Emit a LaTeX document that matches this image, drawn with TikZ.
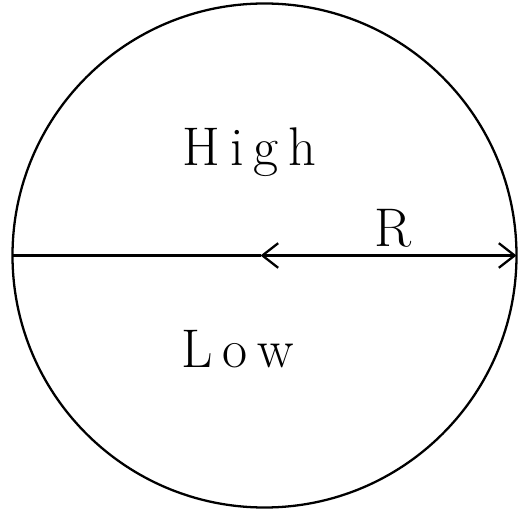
\documentclass[tikz,border=0pt]{standalone}
\usepackage{fontspec}
\usepackage{tikz}
\usetikzlibrary{arrows.meta}
\newcommand{\lsp}{\kern5.5pt}
\newcommand{\lbl}{\fontsize{31}{36}\selectfont\addfontfeatures{FakeBold=1.5}}

\begin{document}
\begin{tikzpicture}[x=0.02cm,y=0.02cm]
    \useasboundingbox (-264.5,-254.5) rectangle (262.5,255.5);
    \coordinate (0) at (-4,0);
    \coordinate (1) at (-252,0);
    \coordinate (2) at (252,0);
    \draw[black,line width=1.3pt] (0,0) circle (252);

    \node (3) [anchor=base] at (-15,90) {\lbl H\lsp i\lsp g\lsp h};
    \node (4) [anchor=base] at (-26.5,-111.5) {\lbl L\lsp o\lsp w};
    \node (5) [anchor=base] at (129,8.5) {\lbl R};

    \path[line width=1.3pt]
    (1) [black] edge (0)
    (0) [{Straight Barb[length=9pt,width=14pt]}-{Straight Barb[length=9pt,width=14pt]},black] edge (2)
    ;
\end{tikzpicture}
\end{document}
